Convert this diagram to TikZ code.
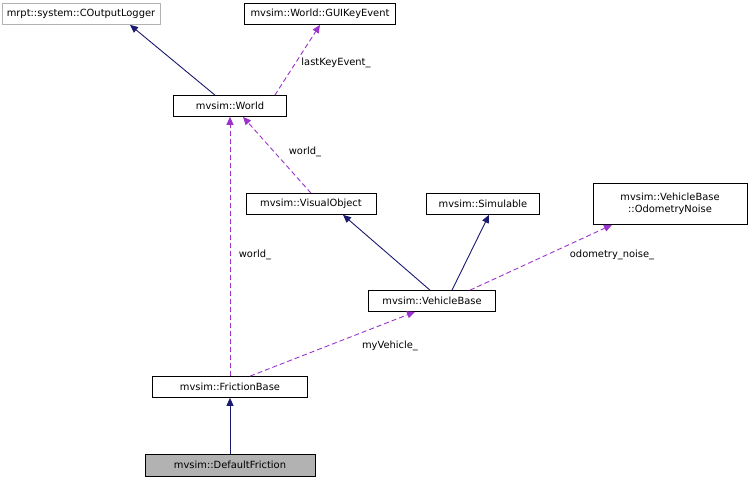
\documentclass[tikz,border=0pt]{standalone}
\usepackage{fontspec}
\setmainfont{DejaVu Sans}
\usetikzlibrary{arrows.meta}
\definecolor{navy}{HTML}{191970}
\definecolor{purp}{HTML}{9A32CD}
\begin{document}
\begin{tikzpicture}[x=1pt,y=-1pt,
  box/.style={draw=black,line width=0.7pt,inner sep=0pt,minimum height=21pt,font=\fontsize{9.9}{11.5}\selectfont,align=center},
  inh/.style={draw=navy,line width=0.9pt,-{Triangle[length=8pt,width=7pt]}},
  use/.style={draw=purp,line width=0.9pt,dash pattern=on 5pt off 3pt,-{Triangle[length=8pt,width=7pt,fill=purp]}},
  lab/.style={font=\fontsize{9.9}{11.5}\selectfont,inner sep=1pt}]
\useasboundingbox (0,0) rectangle (753,485);
\node[box,draw=gray!60,minimum width=158pt] (log) at (81,14) {mrpt::system::COutputLogger};
\node[box,minimum width=151pt] (gui) at (320,14) {mvsim::World::GUIKeyEvent};
\node[box,minimum width=113pt] (world) at (230,106) {mvsim::World};
\node[box,minimum width=130pt] (vis) at (311,204) {mvsim::VisualObject};
\node[box,minimum width=113pt] (sim) at (483,204) {mvsim::Simulable};
\node[box,minimum width=154pt,minimum height=41pt] (odo) at (670,204) {mvsim::VehicleBase\\::OdometryNoise};
\node[box,minimum width=127pt] (veh) at (432,301) {mvsim::VehicleBase};
\node[box,minimum width=155pt] (fric) at (230,387) {mvsim::FrictionBase};
\node[box,fill=gray!60,minimum width=170pt,minimum height=22pt] (def) at (230,465) {mvsim::DefaultFriction};
\draw[inh] ([xshift=-15pt]world.north) -- ([xshift=49pt]log.south);
\draw[use] ([xshift=-12pt]world.north east) -- (gui.south);
\node[lab] (l1) at (336,63) {lastKeyEvent\_};
\draw[use] (fric.north) -- (world.south);
\node[lab] (l2) at (255,255) {world\_};
\draw[use] (vis.north) -- ([xshift=13pt]world.south);
\node[lab] (l3) at (305,152) {world\_};
\draw[inh] ([xshift=-2pt]veh.north) -- ([xshift=32pt]vis.south);
\draw[inh] ([xshift=20pt]veh.north) -- ([xshift=6pt]sim.south);
\draw[use] ([xshift=38pt]veh.north) -- ([xshift=-58pt]odo.south);
\node[lab] (l4) at (612,255) {odometry\_noise\_};
\draw[use] ([xshift=20pt]fric.north) -- ([xshift=-17pt]veh.south);
\node[lab] (l5) at (390,346) {myVehicle\_};
\draw[inh] (def.north) -- (fric.south);
\end{tikzpicture}
\end{document}
